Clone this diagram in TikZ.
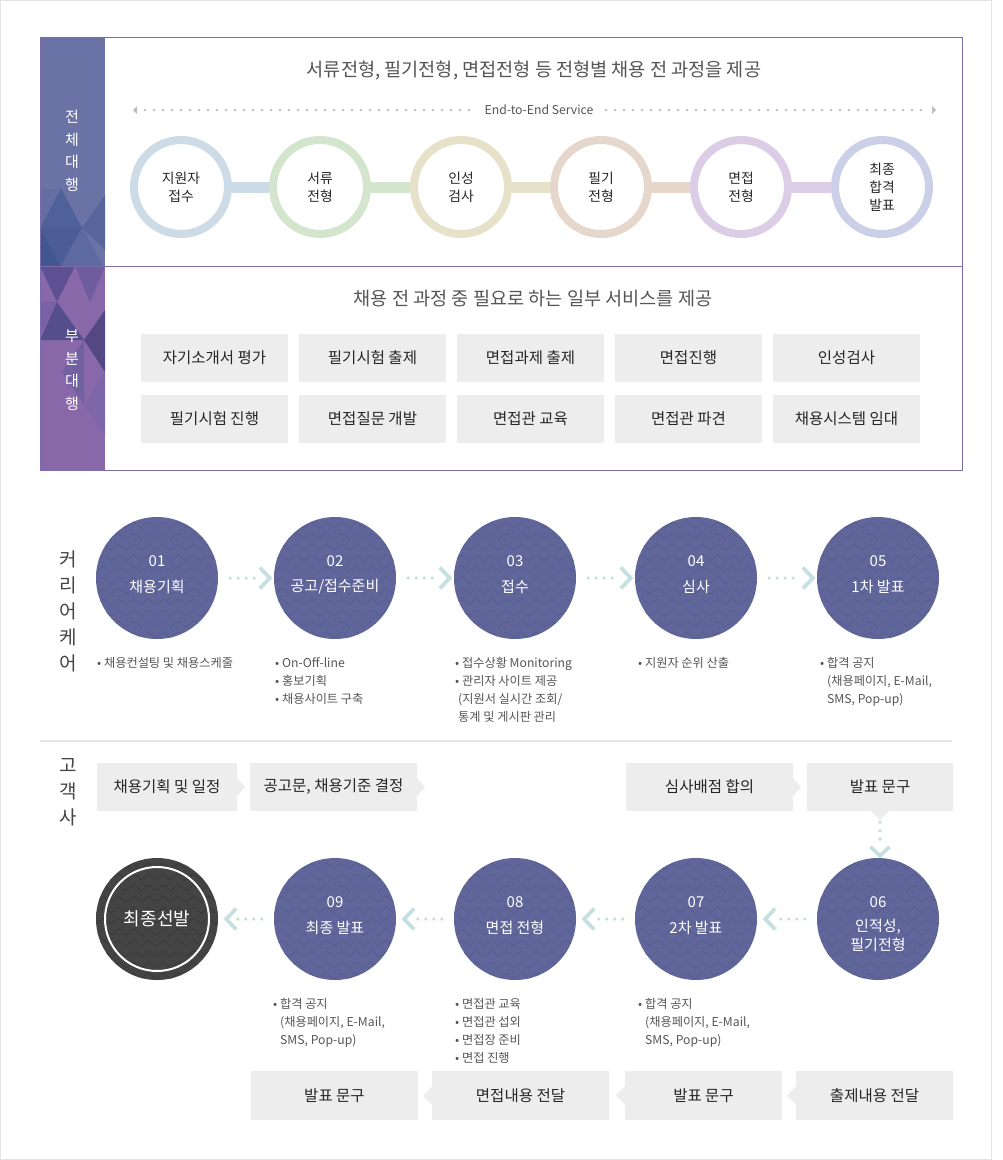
\documentclass[tikz,border=0pt]{standalone}
\usepackage{fontspec}
\setmainfont{Noto Sans CJK KR}
\usetikzlibrary{calc}
\definecolor{sideA}{HTML}{6B73A6}
\definecolor{sideB}{HTML}{8868A9}
\definecolor{boxpurple}{HTML}{7B6BAA}
\definecolor{ringA}{HTML}{CDDBE6}
\definecolor{ringB}{HTML}{D3E6CD}
\definecolor{ringC}{HTML}{E6E2CA}
\definecolor{ringD}{HTML}{E6D7CD}
\definecolor{ringE}{HTML}{DACDE5}
\definecolor{ringF}{HTML}{CBCFE7}
\definecolor{dotgray}{HTML}{BDBDBD}
\definecolor{procblue}{HTML}{60669A}
\definecolor{zigblue}{HTML}{575D8F}
\definecolor{darkc}{HTML}{444444}
\definecolor{zigdark}{HTML}{393939}
\definecolor{teal}{HTML}{C6E0E1}
\definecolor{boxgray}{HTML}{EDEDED}
\definecolor{titlegray}{HTML}{555555}
\definecolor{bulgray}{HTML}{555555}
\definecolor{vgray}{HTML}{444444}
\definecolor{framegray}{HTML}{E3E3E3}
\definecolor{tA}{RGB}{80,96,152}
\definecolor{tB}{RGB}{66,86,144}
\definecolor{tC}{RGB}{76,92,149}
\definecolor{tD}{RGB}{92,106,160}
\definecolor{tE}{RGB}{88,100,156}
\definecolor{tF}{RGB}{100,110,163}
\definecolor{uA}{RGB}{94,80,146}
\definecolor{uB}{RGB}{110,92,158}
\definecolor{uC}{RGB}{120,98,165}
\definecolor{uD}{RGB}{86,78,140}
\definecolor{uE}{RGB}{84,72,132}
\definecolor{uF}{RGB}{114,97,160}
\definecolor{uG}{RGB}{125,103,168}
\begin{document}
\begin{tikzpicture}[x=1pt,y=-1pt,
  ttl/.style={text=titlegray,font=\fontsize{18.6}{21}\selectfont,inner sep=0},
  sidetxt/.style={text=white,font=\fontsize{15}{22.5}\selectfont,align=center,inner sep=0},
  vlab/.style={text=vgray,font=\fontsize{19}{26}\selectfont,align=center,inner sep=0},
  ringnode/.style={circle,minimum size=94pt,inner sep=0,fill=white,line width=8pt,align=center,font=\fontsize{13.8}{18}\selectfont,text=black!85},
  svc/.style={fill=boxgray,minimum width=147pt,minimum height=48pt,inner sep=0,font=\fontsize{15.5}{17}\selectfont,text=black!85},
  gbox/.style={fill=boxgray,minimum height=48pt,inner sep=0,font=\fontsize{15.5}{17}\selectfont,text=black!85},
  patcirc/.style 2 args={circle,minimum size=122pt,inner sep=0,fill=#1,
    path picture={\foreach \zk in {0,...,12}{\draw[#2,line width=0.7pt] ([yshift={-\zk*11pt}]path picture bounding box.north west) \foreach \zi in {1,...,9}{ -- ++(7.5,-6) -- ++(7.5,6)};}}},
  proc/.style={patcirc={procblue}{zigblue}},
  numtxt/.style={text=white,font=\fontsize{15}{19}\selectfont,inner sep=0,align=center},
  bul/.style={text=bulgray,font=\fontsize{12.2}{18}\selectfont,align=left,inner sep=0,anchor=north west},
  dotline/.style={teal,line width=3.6pt,line cap=round,dash pattern=on 0pt off 8pt},
  chev/.style={teal,line width=3.8pt,line join=miter},
]
\useasboundingbox (0,0) rectangle (1002,1160);
\draw[framegray,line width=1pt] (0.5,0.5) rectangle (991.5,1159.5);

% ---------- top box sidebar ----------
\fill[sideA] (40,37) rectangle (105,266);
\fill[tA] (40,228) -- (61,188) -- (82,228) -- cycle;
\fill[tB] (40,228) -- (61,266) -- (40,266) -- cycle;
\fill[tC] (40,228) -- (61,266) -- (82,228) -- cycle;
\fill[tD] (61,266) -- (82,228) -- (103,266) -- cycle;
\fill[tE] (82,228) -- (105,195) -- (105,250) -- cycle;
\fill[tF] (40,190) -- (61,188) -- (40,228) -- cycle;
\fill[sideB] (40,266) rectangle (105,470);
\fill[uA] (40,266) -- (75,266) -- (57,302) -- cycle;
\fill[uB] (75,266) -- (105,266) -- (90,302) -- cycle;
\fill[uC] (40,302) -- (57,302) -- (40,335) -- cycle;
\fill[uD] (57,302) -- (84,340) -- (40,340) -- cycle;
\fill[uE] (84,340) -- (105,310) -- (105,372) -- cycle;
\fill[uF] (62,372) -- (84,340) -- (84,405) -- cycle;
\fill[uG] (84,405) -- (105,372) -- (105,435) -- cycle;
\draw[boxpurple,line width=1pt] (40,37) rectangle (962,470);
\draw[boxpurple,line width=1pt] (40,266) -- (962,266);
\node[sidetxt] (s1) at (72,151) {전\\체\\대\\행};
\node[sidetxt] (s2) at (72,370) {부\\분\\대\\행};

% ---------- top: full service ----------
\node[ttl] (t1) at (534,70) {서류전형, 필기전형, 면접전형 등 전형별 채용 전 과정을 제공};
\node[text=titlegray,font=\fontsize{12.2}{14}\selectfont,inner sep=0] (e2e) at (539,110) {End-to-End Service};
\foreach \x in {145,154,...,472} \fill[dotgray] (\x,110) circle (1.4);
\foreach \x in {606,615,...,928} \fill[dotgray] (\x,110) circle (1.4);
\fill[dotgray] (133,110) -- (137,106) -- (137,114) -- cycle;
\fill[dotgray] (936,110) -- (932,106) -- (932,114) -- cycle;

\node[ringnode,draw=ringA] (r1) at (181,187) {지원자\\접수};
\node[ringnode,draw=ringB] (r2) at (320,187) {서류\\전형};
\node[ringnode,draw=ringC] (r3) at (461,187) {인성\\검사};
\node[ringnode,draw=ringD] (r4) at (601,187) {필기\\전형};
\node[ringnode,draw=ringE] (r5) at (741,187) {면접\\전형};
\node[ringnode,draw=ringF] (r6) at (882,187) {최종\\합격\\발표};
\draw[line width=11pt,ringA] (r1.east) -- (r2.west);
\draw[line width=11pt,ringB] (r2.east) -- (r3.west);
\draw[line width=11pt,ringC] (r3.east) -- (r4.west);
\draw[line width=11pt,ringD] (r4.east) -- (r5.west);
\draw[line width=11pt,ringE] (r5.east) -- (r6.west);

% ---------- top: partial service ----------
\node[ttl] (t2) at (533,299) {채용 전 과정 중 필요로 하는 일부 서비스를 제공};
\node[svc] (a1) at (214.5,357.5) {자기소개서 평가};
\node[svc] (a2) at (372.5,357.5) {필기시험 출제};
\node[svc] (a3) at (530.5,357.5) {면접과제 출제};
\node[svc] (a4) at (688.5,357.5) {면접진행};
\node[svc] (a5) at (846.5,357.5) {인성검사};
\node[svc] (a6) at (214.5,418.5) {필기시험 진행};
\node[svc] (a7) at (372.5,418.5) {면접질문 개발};
\node[svc] (a8) at (530.5,418.5) {면접관 교육};
\node[svc] (a9) at (688.5,418.5) {면접관 파견};
\node[svc] (a10) at (846.5,418.5) {채용시스템 임대};

% ---------- career care row ----------
\node[vlab] (v1) at (68,611) {커\\리\\어\\케\\어};
\node[proc] (p1) at (157,578) {};
\node[proc] (p2) at (335,578) {};
\node[proc] (p3) at (515,578) {};
\node[proc] (p4) at (696,578) {};
\node[proc] (p5) at (878,578) {};
\foreach \p/\n/\l in {p1/01/채용기획,p2/02/공고\slash 접수준비,p3/03/접수,p4/04/심사,p5/05/1차 발표}{
  \node[numtxt] at ([yshift=17pt]\p.center) {\n};
  \node[numtxt] at ([yshift=-9pt]\p.center) {\l};
}
\foreach \a/\b in {p1/p2,p2/p3,p3/p4,p4/p5}{
  \draw[dotline] ([xshift=12pt]\a.east) -- ([xshift=-18pt]\b.west);
  \draw[chev] ([xshift=-14pt,yshift=10.5pt]\b.west) -- ([xshift=-4pt]\b.west) -- ([xshift=-14pt,yshift=-10.5pt]\b.west);
}
\node[bul] (n1) at (97,657) {• 채용컨설팅 및 채용스케줄};
\node[bul] (n2) at (275,657) {• On-Off-line\\• 홍보기획\\• 채용사이트 구축};
\node[bul] (n3) at (455,657) {• 접수상황 Monitoring\\• 관리자 사이트 제공\\\hspace*{3pt}(지원서 실시간 조회/\\\hspace*{3pt}통계 및 게시판 관리};
\node[bul] (n4) at (638,657) {• 지원자 순위 산출};
\node[bul] (n5) at (820,657) {• 합격 공지\\\hspace*{7pt}(채용페이지, E-Mail,\\\hspace*{7pt}SMS, Pop-up)};

\draw[framegray,line width=1.2pt] (40,741) -- (952,741);

% ---------- client row ----------
\node[vlab] (v2) at (68,792) {고\\객\\사};
\node[gbox,minimum width=140pt] (b1) at (167,787) {채용기획 및 일정};
\node[gbox,minimum width=167pt] (b2) at (333.5,787) {공고문, 채용기준 결정};
\node[gbox,minimum width=167pt] (b3) at (709.5,787) {심사배점 합의};
\node[gbox,minimum width=146pt] (b4) at (880,787) {발표 문구};
\foreach \b in {b1,b2,b3}{
  \fill[boxgray] ([yshift=9pt]\b.east) -- ([xshift=8pt]\b.east) -- ([yshift=-9pt]\b.east) -- cycle;
}
\fill[boxgray] ([xshift=-9pt]b4.south) -- ([yshift=-9pt]b4.south) -- ([xshift=9pt]b4.south) -- cycle;

% ---------- second process row ----------
\node[proc] (p6) at (878,919) {};
\node[proc] (p7) at (696,919) {};
\node[proc] (p8) at (515,919) {};
\node[proc] (p9) at (335,919) {};
\node[patcirc={darkc}{zigdark}] (fin) at (157,919) {};
\draw[white,line width=2pt] (fin.center) circle (52);
\node[text=white,font=\fontsize{18}{20}\selectfont,inner sep=0] at (fin.center) {최종선발};
\node[numtxt] at ([yshift=17pt]p6.center) {06};
\node[numtxt] at ([yshift=-16.5pt]p6.center) {인적성,\\필기전형};
\foreach \p/\n/\l in {p7/07/2차 발표,p8/08/면접 전형,p9/09/최종 발표}{
  \node[numtxt] at ([yshift=17pt]\p.center) {\n};
  \node[numtxt] at ([yshift=-9pt]\p.center) {\l};
}
\foreach \a/\b in {p6/p7,p7/p8,p8/p9,p9/fin}{
  \draw[dotline] ([xshift=-12pt]\a.west) -- ([xshift=18pt]\b.east);
  \draw[chev] ([xshift=18pt,yshift=10.5pt]\b.east) -- ([xshift=8pt]\b.east) -- ([xshift=18pt,yshift=-10.5pt]\b.east);
}
\draw[dotline,dash pattern=on 0pt off 8.5pt] ([yshift=-11pt]b4.south) -- ($(b4.south |- p6.north)+(0,-14)$);
\draw[chev] ($(b4.south |- p6.north)+(-9.5,-11)$) -- ($(b4.south |- p6.north)+(0,-2)$) -- ($(b4.south |- p6.north)+(9.5,-11)$);

\node[bul] (m9) at (273,998) {• 합격 공지\\\hspace*{7pt}(채용페이지, E-Mail,\\\hspace*{7pt}SMS, Pop-up)};
\node[bul] (m8) at (455,998) {• 면접관 교육\\• 면접관 섭외\\• 면접장 준비\\• 면접 진행};
\node[bul] (m7) at (638,998) {• 합격 공지\\\hspace*{7pt}(채용페이지, E-Mail,\\\hspace*{7pt}SMS, Pop-up)};

\node[gbox,minimum width=167pt,minimum height=49pt] (c1) at (334.5,1095.5) {발표 문구};
\node[gbox,minimum width=177pt,minimum height=49pt] (c2) at (520.5,1095.5) {면접내용 전달};
\node[gbox,minimum width=157pt,minimum height=49pt] (c3) at (703.5,1095.5) {발표 문구};
\node[gbox,minimum width=157pt,minimum height=49pt] (c4) at (874.5,1095.5) {출제내용 전달};
\foreach \b in {c2,c3,c4}{
  \fill[boxgray] ([yshift=9pt]\b.west) -- ([xshift=-9pt]\b.west) -- ([yshift=-9pt]\b.west) -- cycle;
}
\end{tikzpicture}
\end{document}
